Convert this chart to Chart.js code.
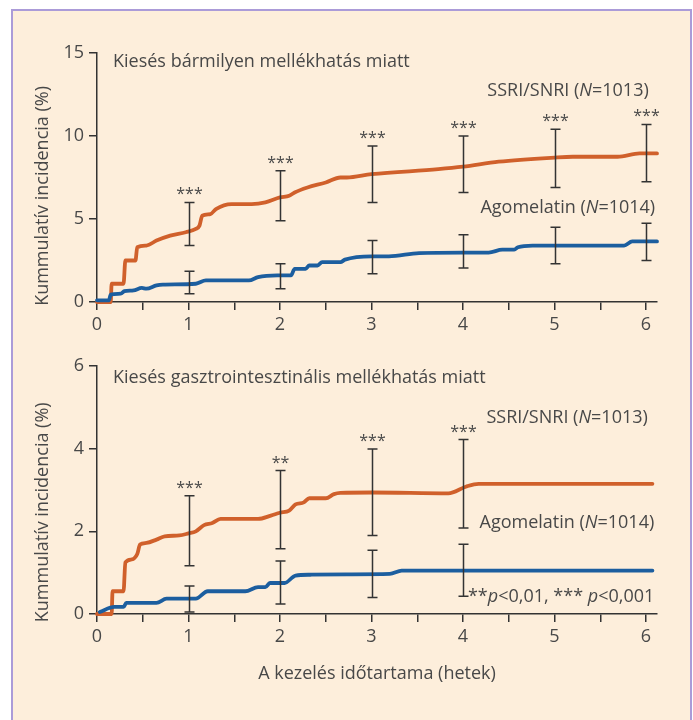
<!DOCTYPE html>
<html>
<head>
<meta charset="utf-8">
<script src="https://cdn.jsdelivr.net/npm/chart.js@4.4.1/dist/chart.umd.min.js"></script>
<style>
  body { margin: 0; background: #fff; width: 693px; height: 720px; overflow: hidden; position: relative; }
  #frame { position: absolute; left: 11px; top: 9px; width: 681px; height: 720px; box-sizing: border-box;
           border: 2px solid #ab9bd8; border-bottom: none; background: #fdeedb; }
  canvas { position: absolute; left: 0; }
  #top { top: 0; }
  #bottom { top: 340px; }
</style>
</head>
<body>
<div id="frame"></div>
<canvas id="top" width="693" height="340"></canvas>
<canvas id="bottom" width="693" height="380"></canvas>
<script>
// upper panel: any adverse event
const topSsriX = [0, 0.15, 0.16, 0.29, 0.31, 0.42, 0.44, 0.54, 0.65, 0.8, 0.97, 1.08, 1.12, 1.15, 1.24, 1.3, 1.47, 1.69, 1.84, 2.0, 2.1, 2.16, 2.3, 2.5, 2.66, 2.73, 3.0, 3.73, 4.0, 4.39, 5.0, 5.2, 5.69, 5.93, 6.12];
const topSsriY = [0, 0, 1.1, 1.1, 2.5, 2.5, 3.3, 3.4, 3.7, 4.0, 4.2, 4.4, 4.6, 5.2, 5.3, 5.6, 5.9, 5.9, 6.0, 6.3, 6.4, 6.6, 6.9, 7.2, 7.5, 7.5, 7.7, 8.0, 8.15, 8.45, 8.7, 8.75, 8.75, 8.95, 8.95];
const topAgoX = [0, 0.13, 0.15, 0.26, 0.3, 0.4, 0.49, 0.54, 0.65, 0.72, 1.08, 1.19, 1.66, 1.76, 1.97, 2.12, 2.16, 2.28, 2.32, 2.41, 2.46, 2.66, 2.71, 3.0, 3.19, 3.52, 4.0, 4.28, 4.43, 4.56, 4.6, 4.76, 5.76, 5.85, 6.12];
const topAgoY = [0.1, 0.1, 0.45, 0.5, 0.65, 0.7, 0.85, 0.8, 1.0, 1.05, 1.1, 1.3, 1.3, 1.5, 1.6, 1.6, 2.0, 2.0, 2.2, 2.2, 2.4, 2.4, 2.55, 2.75, 2.75, 2.95, 2.98, 2.98, 3.15, 3.15, 3.3, 3.4, 3.4, 3.65, 3.65];
const topWeeks = [1, 2, 3, 4, 5, 6];
const topSsriLo = [3.4, 4.9, 6.0, 6.6, 6.9, 7.25];
const topSsriHi = [6.0, 7.9, 9.4, 10.0, 10.4, 10.7];
const topAgoLo = [0.5, 0.8, 1.7, 2.05, 2.3, 2.5];
const topAgoHi = [1.85, 2.3, 3.7, 4.05, 4.5, 4.75];
const topStars = ['***', '***', '***', '***', '***', '***'];
const topYTicks = [0, 5, 10, 15];

// lower panel: gastrointestinal adverse event
const botSsriX = [0, 0.16, 0.17, 0.29, 0.31, 0.38, 0.44, 0.47, 0.54, 0.65, 0.74, 0.9, 1.0, 1.08, 1.17, 1.26, 1.35, 1.76, 1.9, 2.0, 2.1, 2.17, 2.26, 2.32, 2.5, 2.59, 2.66, 3.0, 3.84, 4.03, 4.17, 6.07];
const botSsriY = [0, 0, 0.55, 0.55, 1.25, 1.32, 1.45, 1.68, 1.72, 1.8, 1.88, 1.9, 1.95, 2.0, 2.15, 2.2, 2.3, 2.3, 2.38, 2.45, 2.5, 2.65, 2.7, 2.8, 2.8, 2.9, 2.93, 2.94, 2.92, 3.08, 3.15, 3.15];
const botAgoX = [0.03, 0.19, 0.29, 0.32, 0.65, 0.76, 1.08, 1.21, 1.62, 1.76, 1.84, 1.89, 2.05, 2.17, 2.33, 2.73, 3.2, 3.33, 6.07];
const botAgoY = [0.05, 0.17, 0.17, 0.27, 0.27, 0.37, 0.37, 0.55, 0.55, 0.65, 0.65, 0.75, 0.75, 0.93, 0.95, 0.96, 0.97, 1.05, 1.05];
const botWeeks = [1, 2, 3, 4];
const botSsriLo = [1.17, 1.58, 1.9, 2.08];
const botSsriHi = [2.86, 3.47, 3.99, 4.22];
const botAgoLo = [0.05, 0.24, 0.4, 0.43];
const botAgoHi = [0.68, 1.28, 1.54, 1.69];
const botStars = ['***', '**', '***', '***'];
const botYTicks = [0, 2, 4, 6];

const xTicks = [0, 1, 2, 3, 4, 5, 6];

const ORANGE = '#d0602b';
const BLUE = '#1c5e9f';
const AXIS = '#333333';
const TEXT = '#484848';
const FONT = 'Open Sans';
const FS = 18;

const pts = (xs, ys) => xs.map((x, i) => ({ x, y: ys[i] }));

function drawRich(ctx, parts, x, y, align) {
  let total = 0;
  parts.forEach(p => { ctx.font = (p.i ? 'italic ' : '') + FS + 'px "' + FONT + '"'; total += ctx.measureText(p.t).width; });
  let cx = align === 'right' ? x - total : x;
  parts.forEach(p => {
    ctx.font = (p.i ? 'italic ' : '') + FS + 'px "' + FONT + '"';
    ctx.fillText(p.t, cx, y);
    cx += ctx.measureText(p.t).width;
  });
}

const annot = {
  id: 'annot',
  afterDatasetsDraw(chart, args, o) {
    const { ctx } = chart;
    const x = chart.scales.x, y = chart.scales.y;
    ctx.save();
    ctx.strokeStyle = AXIS;
    ctx.lineWidth = 1.5;
    ctx.fillStyle = TEXT;
    o.bars.forEach(b => {
      b.weeks.forEach((w, i) => {
        const px = Math.round(x.getPixelForValue(w)) + 0.5;
        const t = y.getPixelForValue(b.hi[i]), btm = y.getPixelForValue(b.lo[i]);
        ctx.beginPath();
        ctx.moveTo(px, t); ctx.lineTo(px, btm);
        ctx.moveTo(px - 5, t); ctx.lineTo(px + 5, t);
        ctx.moveTo(px - 5, btm); ctx.lineTo(px + 5, btm);
        ctx.stroke();
        if (b.stars) {
          ctx.font = '16px "' + FONT + '"';
          ctx.textAlign = 'center';
          ctx.textBaseline = 'alphabetic';
          ctx.fillText(b.stars[i], px, t - 3);
        }
      });
    });
    ctx.textAlign = 'left';
    ctx.textBaseline = 'alphabetic';
    o.texts.forEach(t => drawRich(ctx, t.parts, x.getPixelForValue(t.x), y.getPixelForValue(t.y), t.align));
    // y axis title
    ctx.save();
    ctx.translate(43, y.getPixelForValue(o.yTitleAt));
    ctx.rotate(-Math.PI / 2);
    ctx.font = FS + 'px "' + FONT + '"';
    ctx.textAlign = 'center';
    ctx.textBaseline = 'middle';
    ctx.fillText('Kummulatív incidencia (%)', 0, 0);
    ctx.restore();
    ctx.restore();
  }
};

function makeChart(id, cfg) {
  return new Chart(document.getElementById(id), {
    type: 'line',
    data: {
      datasets: [
        { data: pts(cfg.agoX, cfg.agoY), borderColor: BLUE, order: 1 },
        { data: pts(cfg.ssriX, cfg.ssriY), borderColor: ORANGE, order: 2 }
      ]
    },
    options: {
      responsive: false,
      animation: false,
      parsing: false,
      layout: { padding: { top: cfg.padTop, right: 36, left: 0, bottom: 0 } },
      elements: {
        line: { borderWidth: 3.8, cubicInterpolationMode: 'monotone', borderJoinStyle: 'round', borderCapStyle: 'round', fill: false },
        point: { radius: 0 }
      },
      datasets: { line: { clip: false } },
      plugins: {
        legend: { display: false },
        tooltip: { enabled: false },
        annot: { bars: cfg.bars, texts: cfg.texts, yTitleAt: cfg.yTitleAt }
      },
      scales: {
        x: {
          type: 'linear', min: 0, max: 6.12,
          afterFit: s => { s.height = cfg.xHeight; },
          afterBuildTicks: s => { s.ticks = [0, 0.5, 1, 1.5, 2, 2.5, 3, 3.5, 4, 4.5, 5, 5.5, 6].map(v => ({ value: v })); },
          ticks: {
            color: TEXT, font: { family: FONT, size: FS }, padding: 4, maxRotation: 0, autoSkip: false,
            callback: v => xTicks.includes(v) ? String(v) : ''
          },
          grid: { drawOnChartArea: false, drawTicks: true, tickLength: 8, color: AXIS, lineWidth: 1.5 },
          border: { color: AXIS, width: 1.5 },
          title: cfg.xTitle ? { display: true, text: 'A kezelés időtartama (hetek)', color: TEXT, font: { family: FONT, size: FS }, padding: { top: 0, bottom: 35 } } : { display: false }
        },
        y: {
          min: 0, max: cfg.yMax,
          afterFit: s => { s.width = 97; },
          afterBuildTicks: s => { s.ticks = cfg.yTicks.map(v => ({ value: v })); },
          ticks: { color: TEXT, font: { family: FONT, size: FS }, padding: 5 },
          grid: { drawOnChartArea: false, drawTicks: true, tickLength: 8, color: AXIS, lineWidth: 1.5 },
          border: { color: AXIS, width: 1.5 }
        }
      }
    },
    plugins: [annot]
  });
}

makeChart('top', {
  ssriX: topSsriX, ssriY: topSsriY, agoX: topAgoX, agoY: topAgoY,
  yMax: 15, yTicks: topYTicks, padTop: 53, xHeight: 38, xTitle: false, yTitleAt: 6.39,
  bars: [
    { weeks: topWeeks, lo: topSsriLo, hi: topSsriHi, stars: topStars },
    { weeks: topWeeks, lo: topAgoLo, hi: topAgoHi }
  ],
  texts: [
    { x: 0.175, y: 14.16, align: 'left', parts: [{ t: 'Kiesés bármilyen mellékhatás miatt' }] },
    { x: 6.03, y: 12.41, align: 'right', parts: [{ t: 'SSRI/SNRI (' }, { t: 'N', i: true }, { t: '=1013)' }] },
    { x: 6.1, y: 5.36, align: 'right', parts: [{ t: 'Agomelatin (' }, { t: 'N', i: true }, { t: '=1014)' }] }
  ]
});

makeChart('bottom', {
  ssriX: botSsriX, ssriY: botSsriY, agoX: botAgoX, agoY: botAgoY,
  yMax: 6, yTicks: botYTicks, padTop: 26, xHeight: 106, xTitle: true, yTitleAt: 2.46,
  bars: [
    { weeks: botWeeks, lo: botSsriLo, hi: botSsriHi, stars: botStars },
    { weeks: botWeeks, lo: botAgoLo, hi: botAgoHi }
  ],
  texts: [
    { x: 0.175, y: 5.6, align: 'left', parts: [{ t: 'Kiesés gasztrointesztinális mellékhatás miatt' }] },
    { x: 6.02, y: 4.63, align: 'right', parts: [{ t: 'SSRI/SNRI (' }, { t: 'N', i: true }, { t: '=1013)' }] },
    { x: 6.09, y: 2.08, align: 'right', parts: [{ t: 'Agomelatin (' }, { t: 'N', i: true }, { t: '=1014)' }] },
    { x: 6.09, y: 0.29, align: 'right', parts: [{ t: '**' }, { t: 'p', i: true }, { t: '<0,01, *** ' }, { t: 'p', i: true }, { t: '<0,001' }] }
  ]
});
</script>
</body>
</html>
